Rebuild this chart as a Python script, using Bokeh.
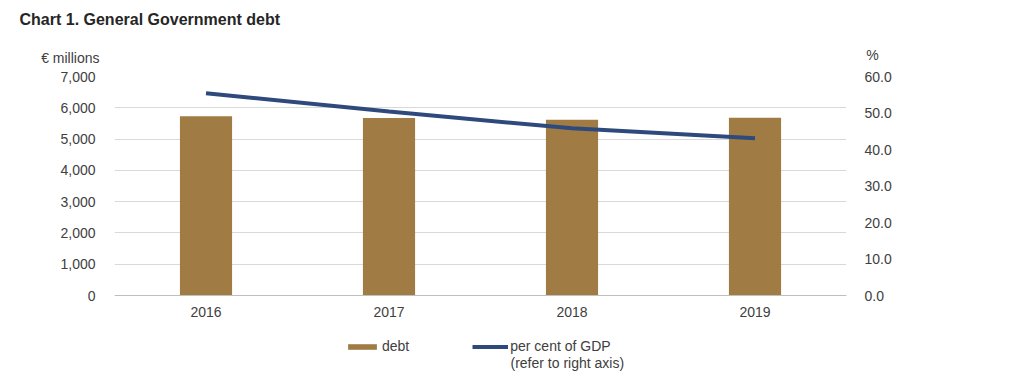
from bokeh.plotting import figure
from bokeh.models import (ColumnDataSource, Range1d, LinearAxis, FixedTicker,
                          NumeralTickFormatter, Label, Legend, LegendItem, Span)
from bokeh.core.properties import value
from bokeh.embed import file_html
from bokeh.resources import INLINE

years = ["2016", "2017", "2018", "2019"]
debt = [5730, 5675, 5620, 5680]
pct_gdp = [55.4, 50.4, 45.8, 43.1]
left_ticks = [0, 1000, 2000, 3000, 4000, 5000, 6000, 7000]
right_ticks = [0, 10, 20, 30, 40, 50, 60]

FONT = "Liberation Sans"
TICK_COLOR = "#404040"
BAR_COLOR = "#A07C44"
LINE_COLOR = "#2E4A7C"

# layout (pixels)
W, H = 1024, 385
F_LEFT, F_RIGHT, F_TOP, F_BOTTOM = 114, 846, 76, 377
ZERO_PX = 295          # pixel row of value 0
# the frame extends below the zero line to hold the category labels and legend
left_max, right_max = 7000, 60
span_px = ZERO_PX - F_TOP
below_px = F_BOTTOM - ZERO_PX
left_min = -left_max * below_px / span_px
right_min = -right_max * below_px / span_px

src = ColumnDataSource(dict(year=years, debt=debt, pct=pct_gdp))

p = figure(x_range=years, y_range=Range1d(left_min, left_max), width=W, height=H,
           output_backend="svg", toolbar_location=None, x_axis_location=None,
           min_border_left=F_LEFT, min_border_right=W - F_RIGHT,
           min_border_top=F_TOP, min_border_bottom=H - F_BOTTOM)
p.extra_y_ranges = {"pct": Range1d(right_min, right_max)}

p.outline_line_color = None
p.background_fill_color = "white"
p.border_fill_color = "white"

p.xgrid.grid_line_color = None
p.ygrid.grid_line_color = "#D9D9D9"
p.ygrid.ticker = FixedTicker(ticks=left_ticks)

bars = p.vbar(x="year", top="debt", width=0.285, source=src,
              fill_color=BAR_COLOR, line_color=None)
line = p.line(x="year", y="pct", source=src, y_range_name="pct",
              line_color=LINE_COLOR, line_width=4)

# category axis line and labels
p.add_layout(Span(location=0, dimension="width", line_color="#BFBFBF", line_width=1))
p.text(x="year", y=0, text="year", source=src, y_offset=16,
       text_align="center", text_baseline="middle",
       text_font=value(FONT), text_font_size="14px", text_color=TICK_COLOR)

ya = p.yaxis[0]
ya.ticker = FixedTicker(ticks=left_ticks)
ya.formatter = NumeralTickFormatter(format="0,0")
ya.axis_line_color = None
ya.major_tick_line_color = None
ya.minor_tick_line_color = None
ya.major_label_text_font = FONT
ya.major_label_text_font_size = "14px"
ya.major_label_text_color = TICK_COLOR
ya.major_label_standoff = 13

ra = LinearAxis(y_range_name="pct", ticker=FixedTicker(ticks=right_ticks),
                formatter=NumeralTickFormatter(format="0.0"))
ra.axis_line_color = None
ra.major_tick_line_color = None
ra.minor_tick_line_color = None
ra.major_label_text_font = FONT
ra.major_label_text_font_size = "14px"
ra.major_label_text_color = TICK_COLOR
ra.major_label_standoff = 12
p.add_layout(ra, "right")

# texts in the "above" panel (they stack outward from the frame)
p.add_layout(Label(x=-15, y=19, x_units="screen", y_units="screen",
                   text="€ millions", text_font=FONT, text_font_size="14px",
                   text_color=TICK_COLOR, text_align="right",
                   text_baseline="middle"), "above")
p.add_layout(Label(x=758, y=6, x_units="screen", y_units="screen",
                   text="%", text_font=FONT, text_font_size="14px",
                   text_color=TICK_COLOR, text_align="center",
                   text_baseline="middle"), "above")
p.add_layout(Label(x=-95, y=25, x_units="screen", y_units="screen",
                   text="Chart 1. General Government debt", text_font=FONT,
                   text_font_size="16px", text_font_style="bold",
                   text_color="#262626", text_baseline="middle"), "above")

legend = Legend(items=[LegendItem(label="debt", renderers=[bars]),
                       LegendItem(label="per cent of GDP", renderers=[line])],
                orientation="horizontal", location=(230, 21),
                label_text_font=FONT, label_text_font_size="14px",
                label_text_color=TICK_COLOR, label_height=20,
                glyph_width=36, glyph_height=7,
                label_standoff=2, spacing=63, padding=0, margin=0,
                border_line_color=None, background_fill_alpha=0)
p.add_layout(legend, "center")
# second line of the line-series legend label
p.add_layout(Label(x=396, y=15, x_units="screen", y_units="screen",
                   text="(refer to right axis)", text_font=FONT,
                   text_font_size="14px", text_color=TICK_COLOR,
                   text_baseline="middle"))

open("out.html", "w").write(file_html(p, INLINE))
